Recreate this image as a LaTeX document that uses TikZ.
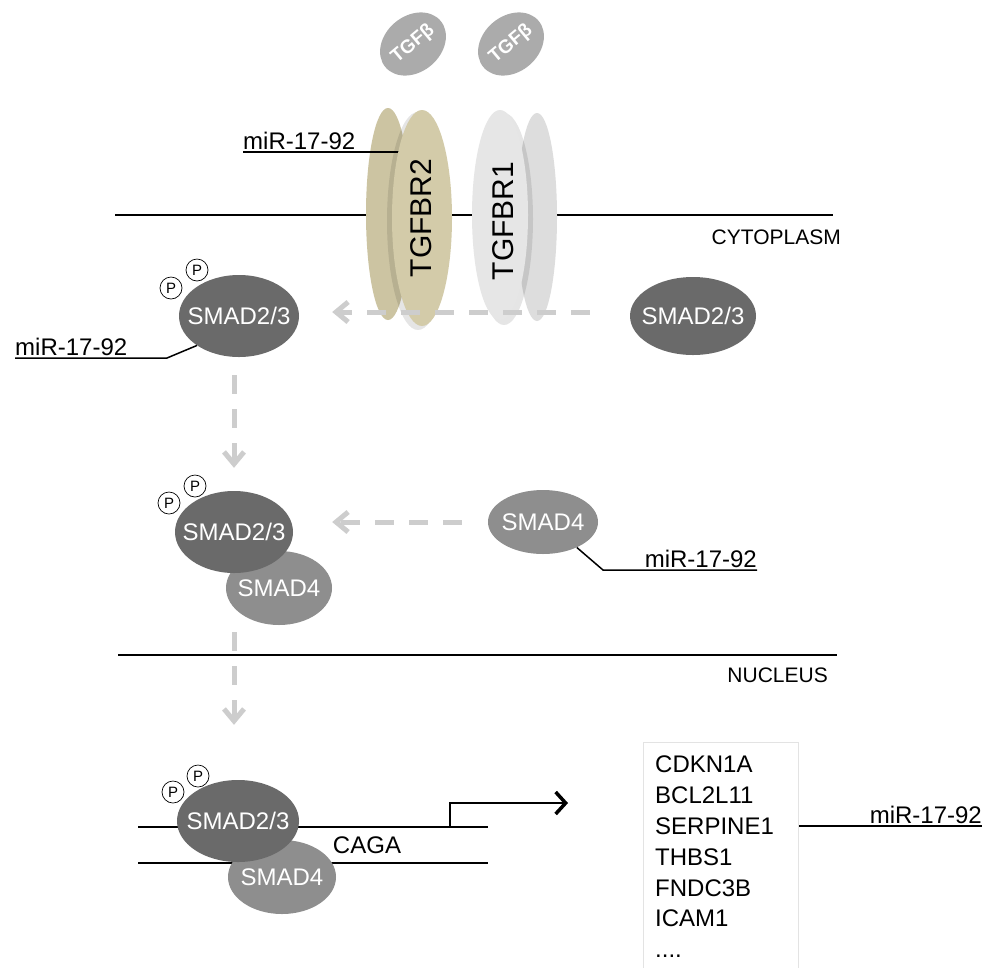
\documentclass[tikz,border=0pt]{standalone}
\usepackage{fontspec}
\setmainfont{Liberation Sans}
\usetikzlibrary{shapes.geometric,arrows.meta}
\definecolor{smaddark}{HTML}{6A6A6A}
\definecolor{smadlight}{HTML}{8E8E8E}
\definecolor{tgfbcol}{HTML}{ABABAB}
\definecolor{tanF}{HTML}{D3CBA9}
\definecolor{tanB}{HTML}{CCC4A2}
\definecolor{greyF}{HTML}{E6E6E6}
\definecolor{greyB}{HTML}{DDDDDD}
\definecolor{dashcol}{HTML}{CDCDCD}
\definecolor{boxcol}{HTML}{E3E3E3}
\begin{document}
\begin{tikzpicture}[x=1pt,y=-1pt,
  every node/.style={inner sep=0pt},
  big/.style={font=\fontsize{24}{29}\selectfont},
  small/.style={font=\fontsize{21}{25}\selectfont},
  smadA/.style={ellipse, fill=smaddark, draw=none, label={[text=white,big]center:SMAD2/3}},
  smadB/.style={ellipse, fill=smadlight, draw=none, label={[text=white,big]center:SMAD4}},
  pcirc/.style={circle, draw=black, line width=0.7pt, fill=white, minimum size=22pt, font=\fontsize{15}{17}\selectfont},
  tgf/.style={ellipse, fill=tgfbcol, text=white, minimum width=72pt, minimum height=56pt, rotate=40, font=\bfseries\fontsize{19}{22}\selectfont},
  recep/.style={ellipse, draw=none},
  blk/.style={line width=1.5pt, black},
  mirlbl/.style={big, inner ysep=2pt, inner xsep=0pt},
  darr/.style={line width=5pt, dashcol, dash pattern=on 19pt off 15pt, -{Straight Barb[length=12pt,width=20pt]}},
]
\useasboundingbox (0,0) rectangle (984,967);
\fill[white] (0,0) rectangle (984,967);

% membrane lines
\draw[blk] (115,215) -- (833,215);
\node[small, anchor=east] (cyto) at (841,237) {CYTOPLASM};
\draw[blk] (118,655) -- (837,655);
\node[small, anchor=east] (nucl) at (828,675) {NUCLEUS};

% TGF-beta ligands
\node[tgf] (t1) at (413,44) {TGFβ};
\node[tgf] (t2) at (511,44) {TGFβ};

% receptors
\node[recep, fill=tanB, minimum width=44pt, minimum height=212pt] (r2b) at (388,214) {};
\node[recep, fill=greyB, minimum width=40pt, minimum height=208pt] (r1b) at (537,217) {};
\fill[black, opacity=0.10] (418,221) ellipse [x radius=31, y radius=109];
\fill[black, opacity=0.10] (504,219) ellipse [x radius=29, y radius=106];
\node[mirlbl, anchor=south west] (mA) at (243,152) {miR-17-92};
\draw[blk] (mA.south west) -- (422,152);
\node[recep, fill=tanF, minimum width=60pt, minimum height=216pt] (r2f) at (422,218) {};
\node[recep, fill=greyF, minimum width=56pt, minimum height=210pt] (r1f) at (500,215) {};
\node[rotate=90, font=\fontsize{30}{34}\selectfont] (tr2) at (421,218) {TGFBR2};
\node[rotate=90, font=\fontsize{30}{34}\selectfont] (tr1) at (503,221) {TGFBR1};

% first row SMADs
\node[smadA, minimum width=120pt, minimum height=82pt] (sA) at (239,316) {};
\node[smadA, minimum width=126pt, minimum height=78pt] (sB) at (693,316) {};
\node[pcirc] (pA1) at (171,288) {P};
\node[pcirc] (pA2) at (197,270) {P};
\draw[darr, shorten <=40pt, shorten >=33pt] ([yshift=4pt]sB.west) -- ([yshift=4pt]sA.east);
\node[mirlbl, anchor=south west] (mB) at (15,358) {miR-17-92};
\draw[blk] (mB.south west) -- ++(152,0) -- (sA.215);

% second row
\node[smadB, minimum width=106pt, minimum height=74pt] (sm4a) at (279,588) {};
\node[smadA, minimum width=118pt, minimum height=82pt] (sC) at (234,532) {};
\node[pcirc] (pC1) at (169,503) {P};
\node[pcirc] (pC2) at (195,486) {P};
\draw[darr, shorten <=18pt, shorten >=23pt] (sC.north |- sA.south) -- (sC.north);
\node[smadB, minimum width=110pt, minimum height=64pt] (sm4b) at (543,522) {};
\draw[darr, shorten <=26pt, shorten >=39pt] (sm4b.west) -- (sm4b.west -| sC.east);
\node[mirlbl, anchor=south east] (mC) at (757,570) {miR-17-92};
\draw[blk] (sm4b.-37) -- ([xshift=-154pt]mC.south east) -- (mC.south east);

% nucleus
\coordinate (dA1) at (138,827);
\coordinate (dA2) at (488,827);
\coordinate (dB1) at (138,863);
\coordinate (dB2) at (488,863);
\draw[blk] (dA1) -- (dA2);
\draw[blk] (dB1) -- (dB2);
\node[smadB, minimum width=108pt, minimum height=74pt] (sm4c) at (282,877) {};
\node[smadA, minimum width=122pt, minimum height=82pt] (sD) at (238,821) {};
\node[pcirc] (pD1) at (173,792) {P};
\node[pcirc] (pD2) at (198,776) {P};
\draw[darr, shorten <=7pt, shorten >=55pt] ([xshift=-4pt]sD.north |- sm4a.south) -- ([xshift=-4pt]sD.north);
\node[big] (caga) at (367,845) {CAGA};
\coordinate (tss) at (450,827);
\coordinate (txend) at (568,803);
\draw[line width=2pt, -{Straight Barb[length=10pt,width=22pt,line width=3.5pt]}] (tss) |- (txend);

% gene list
\node[draw=boxcol, line width=1pt, minimum width=155pt, minimum height=250pt, anchor=north west] (box) at (643,742) {};
\node[font=\fontsize{24}{30.8}\selectfont, align=left, anchor=north west] (genes) at (655,756) {CDKN1A\\BCL2L11\\SERPINE1\\THBS1\\FNDC3B\\ICAM1\\....};
\node[mirlbl, anchor=south east] (mD) at (982,826) {miR-17-92};
\draw[blk] (box.east |- mD.south east) -- (mD.south east);
\end{tikzpicture}
\end{document}
